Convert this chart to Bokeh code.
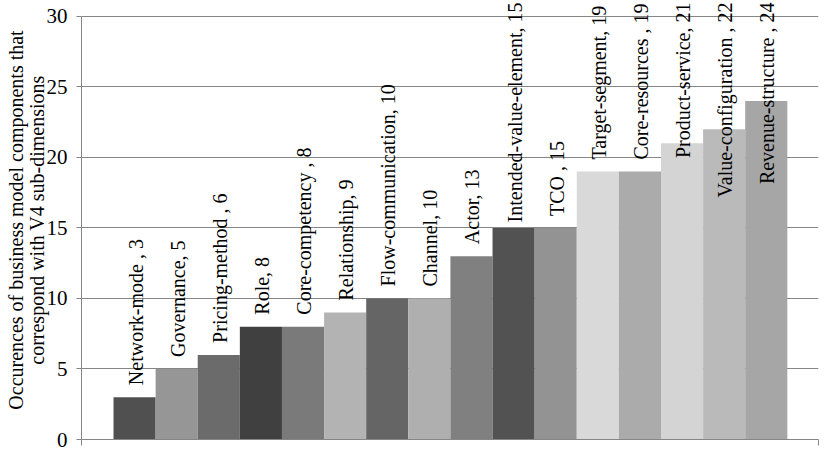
import math
from bokeh.plotting import figure
from bokeh.models import ColumnDataSource, Range1d, FixedTicker, CustomJSTickFormatter
from bokeh.core.properties import value
from bokeh.embed import file_html
from bokeh.resources import INLINE

# ---- data ----
components = ["Network-mode", "Governance", "Pricing-method", "Role", "Core-competency",
              "Relationship", "Flow-communication", "Channel", "Actor",
              "Intended-value-element", "TCO", "Target-segment", "Core-resources",
              "Product-service", "Value-configuration", "Revenue-structure"]
occurrences = [3, 5, 6, 8, 8, 9, 10, 10, 13, 15, 15, 19, 19, 21, 22, 24]
label_texts = ["Network-mode , 3", "Governance, 5", "Pricing-method , 6", "Role, 8",
               "Core-competency , 8", "Relationship, 9", "Flow-communication, 10",
               "Channel, 10", "Actor, 13", "Intended-value-element, 15", "TCO , 15",
               "Target-segment, 19", "Core-resources , 19", "Product-service, 21",
               "Value-configuration , 22", "Revenue-structure , 24"]
bar_colors = ["#505050", "#969696", "#6b6b6b", "#404040", "#7a7a7a", "#b3b3b3",
              "#656565", "#afafaf", "#808080", "#525252", "#939393", "#d9d9d9",
              "#ababab", "#d4d4d4", "#bababa", "#a6a6a6"]
label_anchor = ["bar"] * 9 + ["top"] + ["bar"] * 3 + ["top"] * 3
y_ticks = [0, 5, 10, 15, 20, 25, 30]
y_title = "Occurences of business model components that\ncorrespond with V4 sub-dimensions"

FONT = "Liberation Serif"
n = len(components)
x_start, x_end = -0.76, n + 0.74
y_start, y_end = 0, 31.13

xs = [i + 0.5 for i in range(n)]
src = ColumnDataSource(dict(x=xs, top=occurrences, color=bar_colors))

p = figure(width=829, height=456, output_backend="svg", toolbar_location=None,
           x_range=Range1d(x_start, x_end), y_range=Range1d(y_start, y_end),
           min_border_left=81, min_border_right=11, min_border_top=0,
           min_border_bottom=17)
p.outline_line_color = None
p.background_fill_color = "white"

p.vbar(x="x", top="top", width=1.0, bottom=0, fill_color="color",
       line_color=None, source=src)

bar_idx = [i for i in range(n) if label_anchor[i] == "bar"]
top_idx = [i for i in range(n) if label_anchor[i] == "top"]
src_bar = ColumnDataSource(dict(x=[xs[i] for i in bar_idx],
                                y=[occurrences[i] for i in bar_idx],
                                t=[label_texts[i] for i in bar_idx]))
src_top = ColumnDataSource(dict(x=[xs[i] for i in top_idx],
                                y=[y_end] * len(top_idx),
                                t=[label_texts[i] for i in top_idx]))
p.text(x="x", y="y", text="t", source=src_bar, angle=math.pi / 2,
       text_align="left", text_baseline="middle", y_offset=-12, x_offset=1,
       text_font=value(FONT), text_font_size="20px", text_color="black")
p.text(x="x", y="y", text="t", source=src_top, angle=math.pi / 2,
       text_align="right", text_baseline="middle", y_offset=2, x_offset=1,
       text_font=value(FONT), text_font_size="20px", text_color="black")

# y axis
p.yaxis.ticker = FixedTicker(ticks=y_ticks)
p.yaxis.bounds = (0, 30)
p.yaxis.axis_line_color = "#868686"
p.yaxis.major_tick_line_color = "#868686"
p.yaxis.major_tick_out = 5
p.yaxis.major_tick_in = 0
p.yaxis.minor_tick_line_color = None
p.yaxis.major_label_text_font = FONT
p.yaxis.major_label_text_font_size = "21px"
p.yaxis.major_label_text_color = "black"
p.yaxis.major_label_standoff = 9
p.yaxis.axis_label = y_title
p.yaxis.axis_label_text_font = FONT
p.yaxis.axis_label_text_font_size = "20px"
p.yaxis.axis_label_text_font_style = "normal"
p.yaxis.axis_label_text_color = "black"
p.yaxis.axis_label_text_line_height = 0.95
p.yaxis.axis_label_standoff = -4

# x axis (line + end ticks only)
p.xaxis.ticker = FixedTicker(ticks=[x_start, x_end])
p.xaxis.formatter = CustomJSTickFormatter(code="return ''")
p.xaxis.axis_line_color = "#868686"
p.xaxis.major_tick_line_color = "#868686"
p.xaxis.major_tick_out = 6
p.xaxis.major_tick_in = 0
p.xaxis.minor_tick_line_color = None
p.xaxis.major_label_standoff = 0

p.xgrid.grid_line_color = None
p.ygrid.ticker = FixedTicker(ticks=y_ticks)
p.ygrid.grid_line_color = "#868686"
p.ygrid.grid_line_width = 1

open("out.html", "w").write(file_html(p, INLINE))
